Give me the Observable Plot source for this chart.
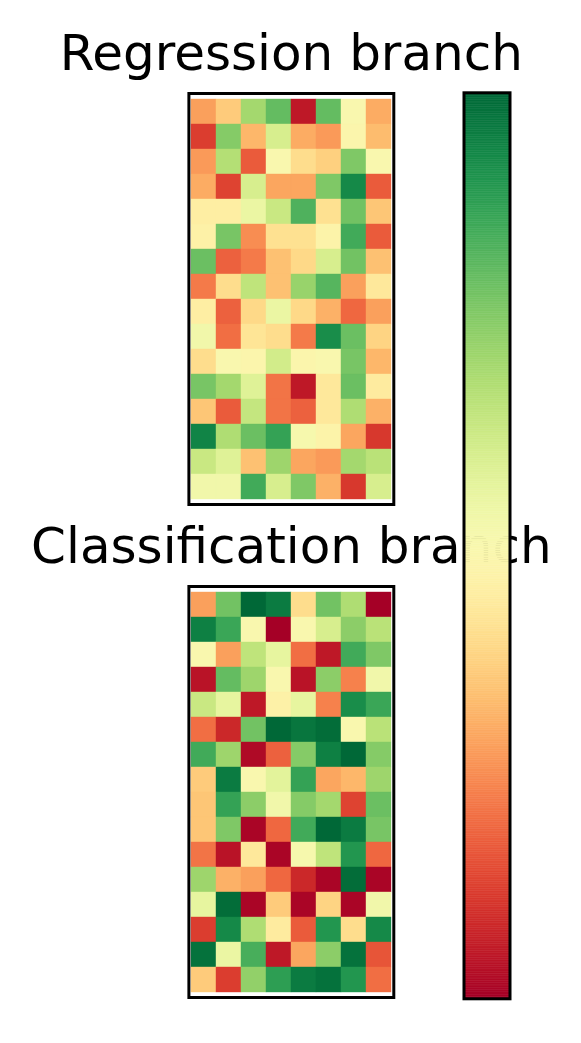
<!DOCTYPE html>
<html>
<head>
<meta charset="utf-8">
<script src="https://cdn.jsdelivr.net/npm/d3@7"></script>
<script src="https://cdn.jsdelivr.net/npm/@observablehq/plot@0.6"></script>
<style>
  html, body { margin: 0; padding: 0; background: #fff; }
  #wrap { position: relative; width: 581px; height: 1043px; }
  #wrap svg { position: absolute; left: 0; top: 0; }
</style>
</head>
<body>
<div id="wrap"></div>
<script>
// Panel titles (facets)
const branches = ["Regression branch", "Classification branch"];
const columns = d3.range(8);
const rows = d3.range(16);

// Values (0..1 on the RdYlGn colour map), 16 rows x 8 columns
const regression = [
  [0.28, 0.36, 0.70, 0.80, 0.05, 0.80, 0.50, 0.30],
  [0.12, 0.75, 0.32, 0.60, 0.30, 0.27, 0.48, 0.33],
  [0.27, 0.67, 0.17, 0.50, 0.40, 0.37, 0.76, 0.50],
  [0.30, 0.13, 0.60, 0.29, 0.29, 0.76, 0.93, 0.17],
  [0.45, 0.45, 0.55, 0.63, 0.83, 0.41, 0.78, 0.35],
  [0.46, 0.77, 0.25, 0.41, 0.41, 0.47, 0.85, 0.17],
  [0.79, 0.18, 0.22, 0.34, 0.39, 0.60, 0.78, 0.34],
  [0.22, 0.40, 0.65, 0.34, 0.72, 0.82, 0.28, 0.43],
  [0.45, 0.18, 0.39, 0.55, 0.39, 0.31, 0.19, 0.28],
  [0.53, 0.20, 0.42, 0.40, 0.22, 0.92, 0.79, 0.38],
  [0.40, 0.50, 0.48, 0.61, 0.48, 0.50, 0.77, 0.32],
  [0.77, 0.70, 0.58, 0.21, 0.05, 0.43, 0.79, 0.44],
  [0.35, 0.17, 0.64, 0.21, 0.18, 0.43, 0.68, 0.31],
  [0.94, 0.68, 0.79, 0.87, 0.51, 0.47, 0.29, 0.11],
  [0.63, 0.58, 0.34, 0.71, 0.29, 0.27, 0.70, 0.66],
  [0.53, 0.53, 0.85, 0.60, 0.76, 0.31, 0.11, 0.60]
];
const classification = [
  [0.28, 0.78, 1.00, 0.96, 0.40, 0.78, 0.68, 0.00],
  [0.95, 0.86, 0.50, 0.00, 0.50, 0.60, 0.74, 0.66],
  [0.50, 0.28, 0.65, 0.56, 0.20, 0.05, 0.85, 0.76],
  [0.04, 0.80, 0.71, 0.50, 0.04, 0.74, 0.23, 0.53],
  [0.63, 0.56, 0.05, 0.46, 0.56, 0.23, 0.92, 0.86],
  [0.20, 0.08, 0.78, 1.00, 0.97, 0.99, 0.50, 0.66],
  [0.85, 0.71, 0.02, 0.18, 0.75, 0.95, 1.00, 0.75],
  [0.36, 0.96, 0.50, 0.57, 0.87, 0.29, 0.32, 0.71],
  [0.35, 0.87, 0.74, 0.53, 0.75, 0.70, 0.13, 0.79],
  [0.35, 0.76, 0.01, 0.19, 0.85, 1.00, 0.96, 0.77],
  [0.21, 0.04, 0.43, 0.01, 0.51, 0.65, 0.90, 0.19],
  [0.71, 0.31, 0.28, 0.19, 0.08, 0.01, 0.99, 0.01],
  [0.56, 0.99, 0.01, 0.36, 0.01, 0.38, 0.01, 0.53],
  [0.12, 0.93, 0.68, 0.44, 0.17, 0.90, 0.40, 0.93],
  [0.98, 0.55, 0.84, 0.05, 0.29, 0.74, 0.98, 0.16],
  [0.36, 0.12, 0.73, 0.88, 0.96, 0.98, 0.90, 0.20]
];

const matrices = [regression, classification];
const cells = [];
branches.forEach((b, k) => {
  matrices[k].forEach((row, r) => row.forEach((v, c) => cells.push({branch: b, row: r, col: c, value: v})));
});
const titles = branches.map(b => ({branch: b, title: b}));

const colorScale = {type: "linear", scheme: "RdYlGn", domain: [0, 1]};

const main = Plot.plot({
  width: 581,
  height: 1043,
  marginLeft: 188.4,
  marginRight: 187.7,
  marginTop: 92,
  marginBottom: 45.6,
  x: {type: "band", domain: columns, padding: 0, axis: null},
  y: {type: "band", domain: rows, padding: 0, axis: null},
  fy: {domain: branches, paddingInner: 0.167, paddingOuter: 0, axis: null},
  color: colorScale,
  style: {background: "white"},
  marks: [
    Plot.cell(cells, {x: "col", y: "row", fy: "branch", fill: "value", inset: 0, stroke: "value", strokeWidth: 0.4}),
    Plot.frame({stroke: "black", strokeWidth: 3}),
    Plot.text(titles, {fy: "branch", text: "title", frameAnchor: "top", lineAnchor: "top", dy: -59,
      fontSize: 50, fontFamily: "DejaVu Sans", fill: "black"})
  ]
});

// Colour bar (gradient steps of the same colour map)
const steps = d3.range(512).map(i => ({y1: i / 512, y2: (i + 1) / 512, v: (i + 0.5) / 512}));
const bar = Plot.plot({
  width: 581,
  height: 1043,
  marginLeft: 463.5,
  marginRight: 71.5,
  marginTop: 92.3,
  marginBottom: 44.7,
  y: {domain: [0, 1], axis: null},
  color: colorScale,
  style: {background: "transparent"},
  marks: [
    Plot.rect(steps, {y1: "y1", y2: "y2", fill: "v", stroke: "v", strokeWidth: 0.5}),
    Plot.frame({stroke: "black", strokeWidth: 3})
  ]
});

const wrap = document.getElementById("wrap");
wrap.appendChild(main);
wrap.appendChild(bar);
</script>
</body>
</html>
